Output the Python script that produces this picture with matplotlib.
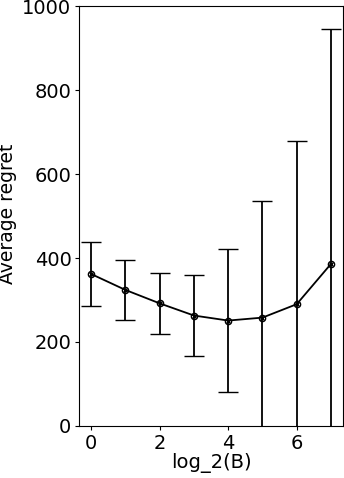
import matplotlib
matplotlib.use("Agg")
import matplotlib.pyplot as plt

# log_2(B) values and average regret with std error bars
log_b = [0, 1, 2, 3, 4, 5, 6, 7]
regret = [362, 324, 292, 263, 251, 258, 290, 386]
regret_err = [77, 71, 72, 96, 170, 278, 389, 559]

fig = plt.figure(figsize=(3.44, 4.78), dpi=100)
ax = fig.add_subplot(111)
fig.subplots_adjust(left=0.23, right=0.997, bottom=0.109, top=0.987)

ax.errorbar(log_b, regret, yerr=regret_err, color="black", capsize=7,
            marker="o", markersize=4.5, mfc="none", lw=1.3, elinewidth=1.3)
ax.plot(log_b, regret, "x", color="black", markersize=3.5, lw=0)

ax.set_ylim(0, 1000)
ax.set_xticks([0, 2, 4, 6])
ax.set_yticks([0, 200, 400, 600, 800, 1000])
ax.tick_params(labelsize=14, length=3, pad=2.5)
ax.set_xlabel("log_2(B)", fontsize=14, labelpad=0)
ax.set_ylabel("Average regret", fontsize=13.5)
# the reference label also runs slightly off the left edge
ax.yaxis.set_label_coords(-0.235, 0.505)

fig.savefig("out.png", dpi=100)
